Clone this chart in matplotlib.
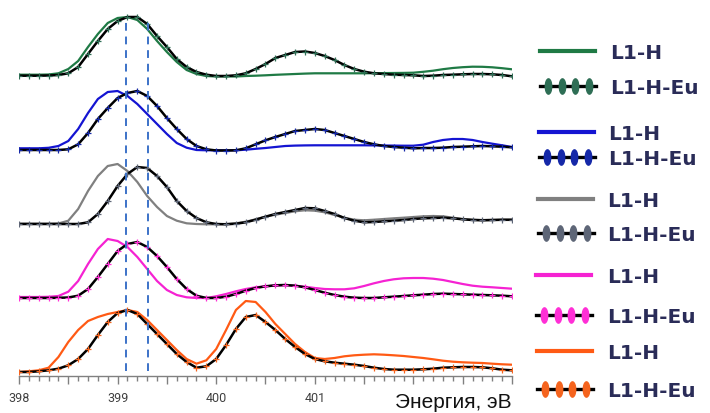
import numpy as np
import matplotlib
matplotlib.use('Agg')
import matplotlib.pyplot as plt
from matplotlib.path import Path
from matplotlib.transforms import Affine2D
from matplotlib.ticker import MultipleLocator, FuncFormatter

# energy grid, eV (step 0.1)
energy = np.round(np.arange(398.0, 403.01, 0.1), 1)

# spectra (height above each trace's own baseline)
green_h = [1.3, 1.3, 1.3, 1.5, 2.7, 7, 15, 29, 42, 53,
           58, 59, 56, 47, 35, 24, 14, 6, 2, 0,
           -0.5, -0.5, -0.5, 0, 0.3, 0.7, 1.2, 1.6, 2, 2.4,
           2.7, 2.7, 2.7, 2.7, 2.7, 2.7, 2.8, 2.9, 3, 3.1,
           3.3, 4.2, 5.3, 6.8, 8, 8.8, 9.3, 9.2, 8.7, 7.8, 6.7]
green_eu = [0.3, 0.3, 0.3, 0.5, 1.0, 2.7, 9, 22, 35, 47,
            55, 59, 59, 52, 40, 29, 17, 9, 4, 1.3,
            0, 0, 0.7, 2.7, 7, 12, 18, 21, 24, 24.5,
            23, 20, 16, 11, 7, 4.3, 2.7, 2, 1.3, 1,
            0.7, 0, 0.3, 1, 1.3, 1.7, 2, 2, 1.7, 1, -0.3]
blue_h = [1.7, 1.7, 1.7, 2.2, 4, 9, 21, 37, 51, 58,
          59, 54, 46, 36, 26, 16, 7, 2.3, 0, -0.3,
          -0.3, -0.3, -0.3, 0.3, 1.2, 2, 3, 4, 4.4, 4.6,
          4.7, 4.7, 4.7, 4.7, 4.7, 4.7, 4.6, 4.5, 4.4, 4.3,
          4.3, 5.3, 8, 10, 11, 11, 10, 8, 6.3, 4.7, 3]
blue_eu = [0, 0, 0, 0, 0, 0.7, 5.7, 17, 31, 42,
           52, 57, 59, 54, 44, 32, 21, 11, 4, 0.7,
           -0.5, -0.5, -0.3, 1.7, 5.7, 9.7, 13, 16, 19, 20,
           21, 20, 17, 14, 11, 8, 5.7, 4, 3, 2.3,
           1.7, 2, 2, 2.3, 3, 3.3, 3.7, 4, 3.7, 3.3, 2.7]
gray_h = [0.3, 0.3, 0.3, 0.3, 0.5, 3.3, 15, 33, 48, 58,
          60, 53, 42, 28, 17, 8, 3.3, 0.7, 0, -0.3,
          -0.3, 0, 0.7, 2.3, 4.7, 7.3, 9.3, 11, 12.7, 13.7,
          13.3, 11.7, 9, 6.3, 4.3, 3.7, 4.3, 5, 5.7, 6.3,
          7, 7.7, 8, 7.7, 6.3, 5, 4.3, 4, 4, 4, 4]
gray_eu = [0, 0, 0, 0, 0, 0, 0, 1.7, 10, 23,
           38, 50, 57, 56, 48, 37, 23, 13, 6, 1.7,
           0, -0.3, 0.3, 1.7, 4.3, 7.3, 10, 12, 14, 16,
           15.7, 13, 10, 6, 3.3, 1.7, 2, 2.7, 3.3, 4,
           5, 5.7, 6, 6.3, 5.7, 4.7, 4, 3.7, 4, 4.3, 4.3]
pink_h = [1, 1, 1, 1.2, 2, 6.3, 17, 34, 49, 59,
          57, 51, 41, 29, 17, 8, 3, 0.7, 0, 0,
          1.7, 4, 6.7, 9, 10.7, 11.7, 12.3, 12.7, 12.3, 11.3,
          10, 9, 8.7, 8.7, 9.7, 12, 14.7, 17, 18.7, 19.7,
          20, 20, 19.3, 18, 16, 14, 12.3, 11.3, 10.7, 10, 9.3]
pink_eu = [0, 0, 0, 0, 0.2, 0.5, 2.3, 9, 21, 34,
           47, 54, 56, 51, 42, 31, 19, 9, 2.3, 0,
           0, 1.3, 4, 7.3, 10, 11.7, 12.7, 13, 12.3, 10.7,
           8, 5.3, 3, 1.3, 0.3, 0, 0, 0.7, 1.3, 2,
           2.7, 3.3, 4, 4.3, 4, 3.7, 3.3, 3, 2.7, 2.3, 1.7]
orange_h = [0, 0.7, 1.7, 4.3, 15, 30, 42, 51, 55, 58,
            60, 62, 60, 52, 42, 32, 22, 13, 8.3, 11.7,
            23, 42, 62, 71, 70, 60, 48, 38, 28, 20,
            14, 13, 14, 15.7, 16.7, 17.3, 17.7, 17.3, 16.7, 16,
            15, 14, 12.7, 11.3, 10.3, 9.7, 9.3, 9, 8.3, 7.7, 7.3]
orange_eu = [0, 0, 0.7, 1.7, 3.3, 6.7, 13, 23, 37, 50,
             59, 62, 58, 48, 38, 28, 18, 10, 4.3, 5.7,
             13, 27, 43, 55, 57, 50, 42, 33, 25, 18,
             13, 10.7, 9.3, 8.3, 7.3, 6, 4.3, 3, 2.3, 2.3,
             2.3, 2.7, 3.3, 4.3, 4.7, 5, 5, 4.7, 3.7, 2.3, 1.7]

series_h = [green_h, blue_h, gray_h, pink_h, orange_h]
series_eu = [green_eu, blue_eu, gray_eu, pink_eu, orange_eu]
line_colors = ['#1F7A45', '#1414D2', '#808080', '#F522D2', '#FF5A14']
marker_colors = ['#2E6E55', '#1528A8', '#5E6677', '#FF2FD6', '#F5641E']
labels = ['L1-H', 'L1-H-Eu']
ref_lines = [399.09, 399.31]
tick_labels = ['398', '399', '400', '401']

offsets = [300, 226, 152, 78, 4]

fig = plt.figure(figsize=(7.1, 4.14), dpi=100)
ax = fig.add_axes([19 / 710, 37 / 414, 493 / 710, 377 / 414])

for h, eu, off, lc, mc in zip(series_h, series_eu, offsets, line_colors, marker_colors):
    ax.plot(energy, np.array(h) + off, color=lc, lw=1.6, zorder=2)
    ax.plot(energy, np.array(eu) + off, color='black', lw=1.8, zorder=3,
            marker='+', ms=5, mec=mc, mew=0.9)

ax.vlines(ref_lines, 5, 357, colors='#3C72C8', linestyles=(0, (4, 3)), lw=1.4, zorder=4)

ax.set_xlim(398, 403)
ax.set_ylim(0, 377)
for s in ['top', 'left', 'right']:
    ax.spines[s].set_visible(False)
ax.spines['bottom'].set_color('#808080')
ax.spines['bottom'].set_linewidth(1.0)
ax.set_yticks([])
ax.xaxis.set_major_locator(MultipleLocator(0.5))
ax.xaxis.set_minor_locator(MultipleLocator(0.1))
ax.xaxis.set_major_formatter(FuncFormatter(
    lambda v, p: str(int(round(v))) if str(int(round(v))) in tick_labels and abs(v - round(v)) < 1e-6 else ''))
ax.tick_params(axis='x', which='major', length=6, width=1, color='#808080', pad=5,
               labelsize=9, labelcolor='#404040')
ax.tick_params(axis='x', which='minor', length=3.5, width=1, color='#808080')
for t in ax.get_xticklabels():
    t.set_fontfamily('Roboto')
ax.patch.set_alpha(0)

fig.text(512 / 710, 6 / 414, 'Энергия, эВ', ha='right', va='baseline',
         fontsize=15, family='Liberation Sans', color='#111111')

# hand-made legend on the right, in figure pixels
lax = fig.add_axes([0, 0, 1, 1], zorder=5)
lax.set_xlim(0, 710)
lax.set_ylim(414, 0)
lax.axis('off')
lax.patch.set_alpha(0)

oval = Path.unit_circle().transformed(Affine2D().scale(0.42, 1.0))
leg_y = [(52, 87), (133, 158), (200, 234), (276, 316), (352, 390)]
leg_x0 = [540, 539, 538, 536, 537]
text_x = [610, 608, 607, 607, 607]
for (yh, ye), x0, tx, lc, mc in zip(leg_y, leg_x0, text_x, line_colors, marker_colors):
    lax.plot([x0, x0 + 55], [yh, yh], color=lc, lw=3)
    lax.plot([x0, x0 + 56], [ye, ye], color='black', lw=2.4)
    lax.plot(np.linspace(x0 + 8, x0 + 49, 4), [ye] * 4, ls='none', marker=oval,
             ms=11, mfc=mc, mec=mc)
    lax.text(tx, yh + 7, labels[0], fontsize=14.5, fontweight='bold',
             family='DejaVu Sans', color='#2A2C58', va='baseline')
    lax.text(tx, ye + 7, labels[1], fontsize=14.5, fontweight='bold',
             family='DejaVu Sans', color='#2A2C58', va='baseline')

fig.savefig('out.png', dpi=100)
